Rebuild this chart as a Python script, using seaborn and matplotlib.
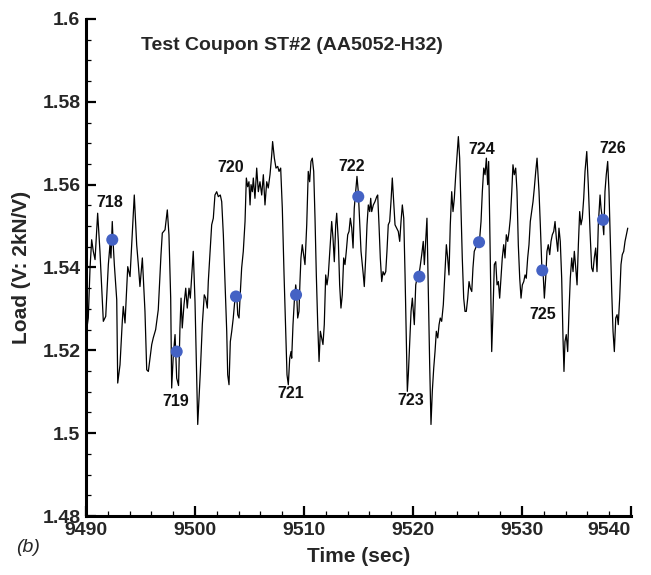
import matplotlib
matplotlib.use("Agg")
import matplotlib.pyplot as plt
import seaborn as sns
import pandas as pd
from matplotlib.ticker import MultipleLocator, FuncFormatter

# ---- data ----
time = [9490.00, 9490.21, 9490.37, 9490.52, 9490.67, 9490.83, 9491.07, 9491.28, 9491.59, 9491.81,
        9492.05, 9492.20, 9492.29, 9492.41, 9492.50, 9492.60, 9492.82, 9492.91, 9493.12, 9493.33,
        9493.42, 9493.58, 9493.83, 9494.04, 9494.43, 9494.65, 9494.80, 9494.95, 9495.17, 9495.41,
        9495.57, 9495.72, 9496.03, 9496.17, 9496.39, 9496.63, 9496.88, 9497.00, 9497.25, 9497.46,
        9497.61, 9497.77, 9497.86, 9498.01, 9498.17, 9498.32, 9498.49, 9498.62, 9498.72, 9498.83,
        9498.99, 9499.15, 9499.29, 9499.45, 9499.57, 9499.75, 9499.84, 9500.00, 9500.16, 9500.25,
        9500.37, 9500.49, 9500.67, 9500.85, 9500.98, 9501.13, 9501.22, 9501.38, 9501.53, 9501.68,
        9501.83, 9501.99, 9502.14, 9502.32, 9502.45, 9502.60, 9502.75, 9502.91, 9503.00, 9503.12,
        9503.24, 9503.37, 9503.51, 9503.67, 9503.83, 9503.92, 9504.04, 9504.13, 9504.28, 9504.43,
        9504.59, 9504.71, 9504.83, 9504.95, 9505.05, 9505.14, 9505.26, 9505.35, 9505.50, 9505.66,
        9505.81, 9505.96, 9506.12, 9506.27, 9506.42, 9506.58, 9506.72, 9506.88, 9507.04, 9507.12,
        9507.28, 9507.43, 9507.59, 9507.71, 9507.86, 9508.01, 9508.17, 9508.32, 9508.44, 9508.56,
        9508.69, 9508.81, 9508.87, 9508.99, 9509.11, 9509.24, 9509.33, 9509.42, 9509.54, 9509.63,
        9509.72, 9509.84, 9509.97, 9510.09, 9510.25, 9510.39, 9510.52, 9510.64, 9510.76, 9510.89,
        9511.01, 9511.13, 9511.26, 9511.38, 9511.50, 9511.62, 9511.74, 9511.86, 9511.99, 9512.11,
        9512.23, 9512.39, 9512.54, 9512.66, 9512.78, 9512.91, 9513.00, 9513.15, 9513.27, 9513.39,
        9513.51, 9513.64, 9513.76, 9513.88, 9514.01, 9514.13, 9514.25, 9514.38, 9514.50, 9514.61,
        9514.74, 9514.86, 9514.98, 9515.05, 9515.23, 9515.44, 9515.53, 9515.66, 9515.78, 9515.90,
        9516.03, 9516.12, 9516.21, 9516.36, 9516.51, 9516.67, 9516.76, 9516.88, 9517.00, 9517.13,
        9517.25, 9517.37, 9517.50, 9517.61, 9517.73, 9517.86, 9517.98, 9518.10, 9518.23, 9518.35,
        9518.50, 9518.65, 9518.78, 9518.90, 9519.02, 9519.15, 9519.27, 9519.39, 9519.48, 9519.57,
        9519.70, 9519.82, 9519.94, 9520.03, 9520.12, 9520.25, 9520.37, 9520.49, 9520.64, 9520.80,
        9520.94, 9521.04, 9521.16, 9521.28, 9521.40, 9521.53, 9521.65, 9521.77, 9521.90, 9522.02,
        9522.14, 9522.27, 9522.39, 9522.50, 9522.63, 9522.78, 9522.94, 9523.06, 9523.18, 9523.30,
        9523.42, 9523.55, 9523.67, 9523.79, 9523.92, 9524.04, 9524.16, 9524.28, 9524.40, 9524.52,
        9524.65, 9524.77, 9524.89, 9525.02, 9525.14, 9525.26, 9525.39, 9525.50, 9525.62, 9525.75,
        9525.87, 9526.12, 9526.24, 9526.36, 9526.49, 9526.61, 9526.73, 9526.85, 9526.94, 9527.04,
        9527.13, 9527.22, 9527.34, 9527.46, 9527.59, 9527.71, 9527.83, 9527.95, 9528.07, 9528.19,
        9528.32, 9528.44, 9528.56, 9528.69, 9528.81, 9528.93, 9529.06, 9529.17, 9529.29, 9529.42,
        9529.54, 9529.66, 9529.79, 9529.91, 9530.03, 9530.16, 9530.28, 9530.39, 9530.52, 9530.64,
        9530.76, 9530.89, 9531.01, 9531.13, 9531.26, 9531.38, 9531.56, 9531.68, 9531.81, 9531.93,
        9532.05, 9532.17, 9532.29, 9532.41, 9532.54, 9532.66, 9532.78, 9532.91, 9533.03, 9533.15,
        9533.28, 9533.39, 9533.51, 9533.64, 9533.76, 9533.85, 9533.94, 9534.06, 9534.19, 9534.31,
        9534.43, 9534.56, 9534.68, 9534.80, 9534.93, 9535.05, 9535.17, 9535.29, 9535.41, 9535.53,
        9535.66, 9535.78, 9535.94, 9536.08, 9536.24, 9536.39, 9536.51, 9536.63, 9536.76, 9536.88,
        9537.00, 9537.16, 9537.25, 9537.37, 9537.50, 9537.61, 9537.73, 9537.86, 9537.98, 9538.10,
        9538.23, 9538.35, 9538.47, 9538.60, 9538.72, 9538.83, 9538.96, 9539.08, 9539.20, 9539.33,
        9539.45, 9539.57, 9539.70]

load = [1.5238, 1.5278, 1.5399, 1.5467, 1.5439, 1.5419, 1.5531, 1.5439, 1.5270, 1.5282,
        1.5407, 1.5455, 1.5423, 1.5511, 1.5455, 1.5407, 1.5322, 1.5121, 1.5165, 1.5270,
        1.5306, 1.5266, 1.5402, 1.5378, 1.5575, 1.5455, 1.5407, 1.5354, 1.5423, 1.5294,
        1.5153, 1.5149, 1.5214, 1.5230, 1.5250, 1.5298, 1.5431, 1.5483, 1.5491, 1.5539,
        1.5479, 1.5326, 1.5109, 1.5189, 1.5238, 1.5133, 1.5115, 1.5254, 1.5326, 1.5254,
        1.5310, 1.5350, 1.5302, 1.5350, 1.5326, 1.5399, 1.5439, 1.5318, 1.5133, 1.5021,
        1.5085, 1.5149, 1.5262, 1.5334, 1.5326, 1.5302, 1.5366, 1.5439, 1.5503, 1.5519,
        1.5575, 1.5583, 1.5571, 1.5575, 1.5559, 1.5479, 1.5366, 1.5246, 1.5141, 1.5117,
        1.5221, 1.5246, 1.5278, 1.5326, 1.5334, 1.5286, 1.5278, 1.5326, 1.5399, 1.5439,
        1.5511, 1.5616, 1.5595, 1.5607, 1.5551, 1.5600, 1.5583, 1.5616, 1.5567, 1.5640,
        1.5583, 1.5607, 1.5575, 1.5624, 1.5551, 1.5607, 1.5592, 1.5624, 1.5672, 1.5704,
        1.5664, 1.5640, 1.5644, 1.5632, 1.5640, 1.5543, 1.5382, 1.5246, 1.5141, 1.5117,
        1.5181, 1.5197, 1.5181, 1.5262, 1.5318, 1.5358, 1.5334, 1.5278, 1.5294, 1.5366,
        1.5423, 1.5455, 1.5431, 1.5407, 1.5503, 1.5632, 1.5607, 1.5656, 1.5664, 1.5632,
        1.5519, 1.5382, 1.5262, 1.5173, 1.5246, 1.5230, 1.5214, 1.5262, 1.5382, 1.5358,
        1.5382, 1.5447, 1.5511, 1.5471, 1.5414, 1.5503, 1.5531, 1.5463, 1.5358, 1.5302,
        1.5334, 1.5423, 1.5407, 1.5439, 1.5479, 1.5487, 1.5519, 1.5495, 1.5447, 1.5543,
        1.5583, 1.5620, 1.5583, 1.5543, 1.5439, 1.5382, 1.5354, 1.5423, 1.5503, 1.5551,
        1.5535, 1.5567, 1.5535, 1.5551, 1.5559, 1.5571, 1.5575, 1.5503, 1.5423, 1.5366,
        1.5390, 1.5382, 1.5390, 1.5439, 1.5503, 1.5511, 1.5559, 1.5616, 1.5559, 1.5503,
        1.5495, 1.5487, 1.5463, 1.5511, 1.5551, 1.5519, 1.5382, 1.5221, 1.5101, 1.5141,
        1.5221, 1.5294, 1.5326, 1.5294, 1.5262, 1.5358, 1.5374, 1.5374, 1.5399, 1.5431,
        1.5463, 1.5407, 1.5463, 1.5519, 1.5342, 1.5165, 1.5021, 1.5101, 1.5157, 1.5197,
        1.5246, 1.5230, 1.5262, 1.5278, 1.5270, 1.5310, 1.5390, 1.5455, 1.5423, 1.5382,
        1.5503, 1.5583, 1.5535, 1.5567, 1.5624, 1.5672, 1.5716, 1.5664, 1.5543, 1.5423,
        1.5326, 1.5294, 1.5294, 1.5326, 1.5366, 1.5350, 1.5342, 1.5399, 1.5439, 1.5447,
        1.5455, 1.5471, 1.5511, 1.5583, 1.5640, 1.5624, 1.5664, 1.5600, 1.5656, 1.5503,
        1.5342, 1.5197, 1.5294, 1.5407, 1.5414, 1.5358, 1.5366, 1.5326, 1.5374, 1.5423,
        1.5455, 1.5423, 1.5479, 1.5463, 1.5487, 1.5519, 1.5583, 1.5648, 1.5624, 1.5640,
        1.5583, 1.5455, 1.5374, 1.5326, 1.5358, 1.5366, 1.5382, 1.5374, 1.5423, 1.5455,
        1.5511, 1.5535, 1.5559, 1.5592, 1.5632, 1.5664, 1.5583, 1.5503, 1.5407, 1.5390,
        1.5326, 1.5374, 1.5439, 1.5455, 1.5431, 1.5463, 1.5479, 1.5487, 1.5511, 1.5471,
        1.5439, 1.5495, 1.5463, 1.5374, 1.5230, 1.5149, 1.5221, 1.5238, 1.5197, 1.5294,
        1.5374, 1.5423, 1.5390, 1.5439, 1.5399, 1.5358, 1.5455, 1.5535, 1.5503, 1.5519,
        1.5567, 1.5632, 1.5680, 1.5600, 1.5487, 1.5399, 1.5390, 1.5423, 1.5447, 1.5390,
        1.5503, 1.5575, 1.5543, 1.5519, 1.5479, 1.5583, 1.5624, 1.5656, 1.5583, 1.5463,
        1.5342, 1.5246, 1.5197, 1.5278, 1.5286, 1.5262, 1.5326, 1.5407, 1.5431, 1.5439,
        1.5463, 1.5479, 1.5495]

cycle_labels = ["718", "719", "720", "721", "722", "723", "724", "725", "726"]
cycle_time = [9492.41, 9498.32, 9503.76, 9509.27, 9514.98, 9520.58, 9526.06, 9531.86, 9537.43]
cycle_load = [1.5467, 1.5197, 1.5330, 1.5334, 1.5571, 1.5378, 1.5461, 1.5393, 1.5515]
label_time = [9492.20, 9498.24, 9503.26, 9508.76, 9514.40, 9519.77, 9526.30, 9531.90, 9538.33]
label_load = [1.5558, 1.5077, 1.5641, 1.5095, 1.5644, 1.5078, 1.5686, 1.5286, 1.5688]

title_text = "Test Coupon ST#2 (AA5052-H32)"
x_label = "Time (sec)"
y_label = "Load (V: 2kN/V)"
panel_tag = "(b)"

# ---- figure ----
sns.set_theme(style="ticks")
plt.rcParams["font.family"] = ["Liberation Sans", "DejaVu Sans"]

fig = plt.figure(figsize=(6.51, 5.75), dpi=100)
ax = fig.add_axes([0.1321, 0.1026, 0.8372, 0.8644])

signal = pd.DataFrame({"time": time, "load": load})
sns.lineplot(data=signal, x="time", y="load", color="black", linewidth=0.9,
             estimator=None, sort=False, ax=ax)

cycles = pd.DataFrame({"time": cycle_time, "load": cycle_load})
sns.scatterplot(data=cycles, x="time", y="load", color="#4462c4", s=75,
                edgecolor="none", linewidth=0, ax=ax, zorder=3)

for lab, tx, ty in zip(cycle_labels, label_time, label_load):
    ax.text(tx, ty, lab, ha="center", va="center", fontsize=11.5,
            fontweight="bold", color="#111111")

ax.set_xlim(9490, 9540)
ax.set_ylim(1.48, 1.6)
ax.xaxis.set_major_locator(MultipleLocator(10))
ax.xaxis.set_minor_locator(MultipleLocator(2))
ax.yaxis.set_major_locator(MultipleLocator(0.02))
ax.yaxis.set_minor_locator(MultipleLocator(0.005))
ax.yaxis.set_major_formatter(FuncFormatter(lambda v, p: f"{v:g}"))
ax.xaxis.set_major_formatter(FuncFormatter(lambda v, p: f"{v:g}"))

for side in ["top", "right"]:
    ax.spines[side].set_visible(False)
for side in ["left", "bottom"]:
    ax.spines[side].set_linewidth(2.2)
    ax.spines[side].set_color("black")

ax.tick_params(which="major", direction="in", length=7, width=1.6, color="black",
               labelsize=14, pad=4)
ax.tick_params(which="minor", direction="in", length=3.5, width=0.9, color="black")

ax.set_xlabel(x_label, fontsize=15, fontweight="bold", labelpad=6)
ax.set_ylabel(y_label, fontsize=15, fontweight="bold", labelpad=8)

ax.text(0.378, 0.946, title_text, transform=ax.transAxes, ha="center", va="center",
        fontsize=14, fontweight="bold")
fig.text(0.043, 0.047, panel_tag, ha="center", va="center", fontsize=14, style="italic")

fig.canvas.draw()
for tick in ax.xaxis.get_major_ticks() + ax.yaxis.get_major_ticks():
    tick.label1.set_fontweight("bold")
for tick in ax.xaxis.get_major_ticks():
    if tick.label1.get_text() == "9540":
        tick.label1.set_horizontalalignment("right")

fig.savefig("out.png", dpi=100, facecolor="white")
